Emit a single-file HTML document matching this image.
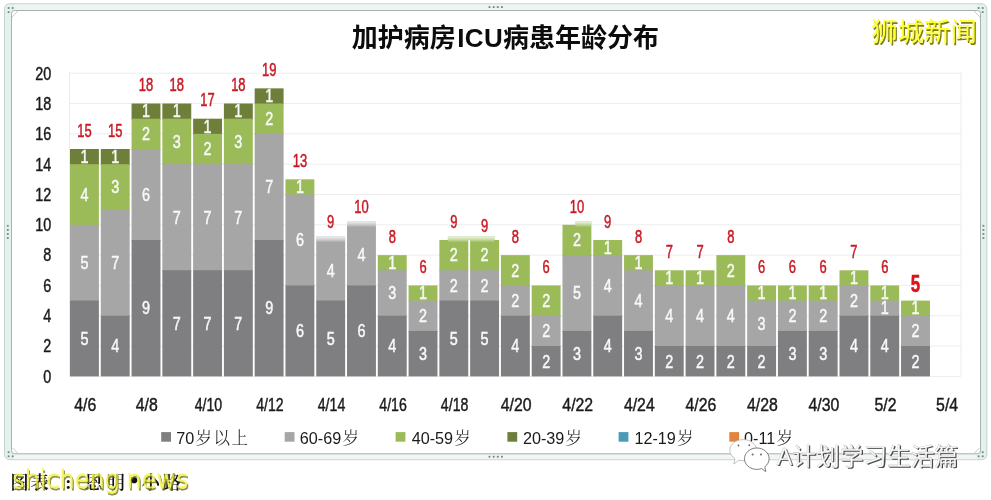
<!DOCTYPE html>
<html lang="zh"><head><meta charset="utf-8"><title>加护病房ICU病患年龄分布</title>
<style>
html,body{margin:0;padding:0;background:#fff;}
body{width:991px;height:500px;overflow:hidden;position:relative;}
svg{position:absolute;left:0;top:0;display:block;}
.n{font-family:"Liberation Sans",sans-serif;font-size:18.0px;}
.n{stroke-width:0.45px;vector-effect:non-scaling-stroke;paint-order:stroke fill;}
.w{fill:#f8f8f8;stroke:#f8f8f8;text-anchor:middle;}
.r{fill:#c81a24;stroke:#c81a24;text-anchor:middle;}
.k{fill:#1a1a1a;stroke:#1a1a1a;stroke-width:0.4px;}
.title{font-family:"Liberation Sans","Noto Sans CJK SC",sans-serif;font-weight:bold;font-size:26px;fill:#0c0c0c;}
.lg{font-family:"Liberation Sans","Noto Serif CJK SC",serif;font-size:16.2px;fill:#1a1a1a;}
.lgc{font-size:16.5px;letter-spacing:1.5px;font-weight:300;}
.wm1{font-family:"Liberation Sans","Noto Sans CJK SC",sans-serif;font-size:26.4px;fill:#ffff33;}
.wm2{font-family:"Liberation Sans","Noto Sans CJK SC",sans-serif;font-size:23.7px;}
.src{font-family:"Liberation Serif","Noto Serif CJK SC",serif;font-size:18.5px;fill:#111;font-weight:600;}
.wm3{font-family:"DejaVu Sans","Liberation Sans",sans-serif;font-weight:200;font-size:25.5px;fill:#f2f23e;}
</style></head><body>
<svg width="991" height="500" viewBox="0 0 991 500">
<defs>
<linearGradient id="fade" x1="0" y1="0" x2="0" y2="1"><stop offset="0" stop-color="#fff" stop-opacity="0.85"/><stop offset="0.6" stop-color="#fff" stop-opacity="0.4"/><stop offset="1" stop-color="#fff" stop-opacity="0"/></linearGradient>
<filter id="sh" x="-5%" y="-10%" width="110%" height="130%"><feGaussianBlur stdDeviation="0.5"/></filter>
</defs>
<rect width="991" height="500" fill="#fff"/>

<rect x="4.5" y="3.8" width="982.3" height="455.9" rx="5" ry="5" fill="#e2f3ee" stroke="#c6d0cc" stroke-width="1"/>
<rect x="14" y="4.4" width="963" height="5.6" fill="#eff3f1"/>
<rect x="14" y="454.3" width="963" height="4.9" fill="#f3f5f4"/>
<rect x="11.5" y="10.5" width="969" height="443.3" rx="3" ry="3" fill="#fff" stroke="#a7b2ae" stroke-width="1"/>
<path d="M12 17 L18 11 M980 17 L974 11 M12 447.5 L18 453.5 M980 447.5 L974 453.5" stroke="#b5bfbb" stroke-width="0.8" fill="none"/>
<rect x="488.6" y="6.2" width="1.8" height="1.8" fill="#74857e"/>
<rect x="488.6" y="455.8" width="1.8" height="1.8" fill="#74857e"/>
<rect x="492.8" y="6.2" width="1.8" height="1.8" fill="#74857e"/>
<rect x="492.8" y="455.8" width="1.8" height="1.8" fill="#74857e"/>
<rect x="496.9" y="6.2" width="1.8" height="1.8" fill="#74857e"/>
<rect x="496.9" y="455.8" width="1.8" height="1.8" fill="#74857e"/>
<rect x="501.0" y="6.2" width="1.8" height="1.8" fill="#74857e"/>
<rect x="501.0" y="455.8" width="1.8" height="1.8" fill="#74857e"/>
<rect x="6.9" y="224.9" width="1.8" height="1.8" fill="#74857e"/>
<rect x="982.5" y="224.9" width="1.8" height="1.8" fill="#74857e"/>
<rect x="6.9" y="229.0" width="1.8" height="1.8" fill="#74857e"/>
<rect x="982.5" y="229.0" width="1.8" height="1.8" fill="#74857e"/>
<rect x="6.9" y="233.1" width="1.8" height="1.8" fill="#74857e"/>
<rect x="982.5" y="233.1" width="1.8" height="1.8" fill="#74857e"/>
<rect x="6.9" y="237.2" width="1.8" height="1.8" fill="#74857e"/>
<rect x="982.5" y="237.2" width="1.8" height="1.8" fill="#74857e"/>
<rect x="7.7" y="7.1" width="1.8" height="1.8" fill="#74857e"/>
<rect x="11.8" y="7.1" width="1.8" height="1.8" fill="#74857e"/>
<rect x="7.7" y="11.2" width="1.8" height="1.8" fill="#74857e"/>
<rect x="981.8" y="7.1" width="1.8" height="1.8" fill="#74857e"/>
<rect x="977.7" y="7.1" width="1.8" height="1.8" fill="#74857e"/>
<rect x="981.8" y="11.2" width="1.8" height="1.8" fill="#74857e"/>
<rect x="7.7" y="455.4" width="1.8" height="1.8" fill="#74857e"/>
<rect x="11.8" y="455.4" width="1.8" height="1.8" fill="#74857e"/>
<rect x="7.7" y="451.3" width="1.8" height="1.8" fill="#74857e"/>
<rect x="981.8" y="455.4" width="1.8" height="1.8" fill="#74857e"/>
<rect x="977.7" y="455.4" width="1.8" height="1.8" fill="#74857e"/>
<rect x="981.8" y="451.3" width="1.8" height="1.8" fill="#74857e"/>
<line x1="69.6" x2="961.0" y1="376.4" y2="376.4" stroke="#ededed" stroke-width="1"/>
<line x1="69.6" x2="961.0" y1="346.1" y2="346.1" stroke="#ededed" stroke-width="1"/>
<line x1="69.6" x2="961.0" y1="315.8" y2="315.8" stroke="#ededed" stroke-width="1"/>
<line x1="69.6" x2="961.0" y1="285.4" y2="285.4" stroke="#ededed" stroke-width="1"/>
<line x1="69.6" x2="961.0" y1="255.1" y2="255.1" stroke="#ededed" stroke-width="1"/>
<line x1="69.6" x2="961.0" y1="224.8" y2="224.8" stroke="#ededed" stroke-width="1"/>
<line x1="69.6" x2="961.0" y1="194.5" y2="194.5" stroke="#ededed" stroke-width="1"/>
<line x1="69.6" x2="961.0" y1="164.2" y2="164.2" stroke="#ededed" stroke-width="1"/>
<line x1="69.6" x2="961.0" y1="133.8" y2="133.8" stroke="#ededed" stroke-width="1"/>
<line x1="69.6" x2="961.0" y1="103.5" y2="103.5" stroke="#ededed" stroke-width="1"/>
<line x1="69.6" x2="961.0" y1="73.2" y2="73.2" stroke="#ededed" stroke-width="1"/>
<line x1="69.6" x2="69.6" y1="72" y2="376.4" stroke="#ececec" stroke-width="1"/>
<line x1="961.0" x2="961.0" y1="72" y2="376.4" stroke="#ececec" stroke-width="1"/>
<text class="n k" text-anchor="end" transform="translate(51.3,382.7) scale(0.8,1)">0</text>
<text class="n k" text-anchor="end" transform="translate(51.3,352.4) scale(0.8,1)">2</text>
<text class="n k" text-anchor="end" transform="translate(51.3,322.1) scale(0.8,1)">4</text>
<text class="n k" text-anchor="end" transform="translate(51.3,291.7) scale(0.8,1)">6</text>
<text class="n k" text-anchor="end" transform="translate(51.3,261.4) scale(0.8,1)">8</text>
<text class="n k" text-anchor="end" transform="translate(51.3,231.1) scale(0.8,1)">10</text>
<text class="n k" text-anchor="end" transform="translate(51.3,200.8) scale(0.8,1)">12</text>
<text class="n k" text-anchor="end" transform="translate(51.3,170.5) scale(0.8,1)">14</text>
<text class="n k" text-anchor="end" transform="translate(51.3,140.1) scale(0.8,1)">16</text>
<text class="n k" text-anchor="end" transform="translate(51.3,109.8) scale(0.8,1)">18</text>
<text class="n k" text-anchor="end" transform="translate(51.3,79.5) scale(0.8,1)">20</text>
<rect x="70.00" y="149.00" width="28.90" height="16.16" fill="#6d7f38"/>
<rect x="70.00" y="164.16" width="28.90" height="61.64" fill="#9bbb59"/>
<rect x="70.00" y="224.80" width="28.90" height="76.80" fill="#a6a6a6"/>
<rect x="70.00" y="300.60" width="28.90" height="75.80" fill="#7f7e80"/>
<rect x="100.78" y="149.00" width="28.90" height="16.16" fill="#6d7f38"/>
<rect x="100.78" y="164.16" width="28.90" height="46.48" fill="#9bbb59"/>
<rect x="100.78" y="209.64" width="28.90" height="107.12" fill="#a6a6a6"/>
<rect x="100.78" y="315.76" width="28.90" height="60.64" fill="#7f7e80"/>
<rect x="131.56" y="103.52" width="28.90" height="16.16" fill="#6d7f38"/>
<rect x="131.56" y="118.68" width="28.90" height="31.32" fill="#9bbb59"/>
<rect x="131.56" y="149.00" width="28.90" height="91.96" fill="#a6a6a6"/>
<rect x="131.56" y="239.96" width="28.90" height="136.44" fill="#7f7e80"/>
<rect x="162.34" y="103.52" width="28.90" height="16.16" fill="#6d7f38"/>
<rect x="162.34" y="118.68" width="28.90" height="46.48" fill="#9bbb59"/>
<rect x="162.34" y="164.16" width="28.90" height="107.12" fill="#a6a6a6"/>
<rect x="162.34" y="270.28" width="28.90" height="106.12" fill="#7f7e80"/>
<rect x="193.12" y="118.68" width="28.90" height="16.16" fill="#6d7f38"/>
<rect x="193.12" y="133.84" width="28.90" height="31.32" fill="#9bbb59"/>
<rect x="193.12" y="164.16" width="28.90" height="107.12" fill="#a6a6a6"/>
<rect x="193.12" y="270.28" width="28.90" height="106.12" fill="#7f7e80"/>
<rect x="223.90" y="103.52" width="28.90" height="16.16" fill="#6d7f38"/>
<rect x="223.90" y="118.68" width="28.90" height="46.48" fill="#9bbb59"/>
<rect x="223.90" y="164.16" width="28.90" height="107.12" fill="#a6a6a6"/>
<rect x="223.90" y="270.28" width="28.90" height="106.12" fill="#7f7e80"/>
<rect x="254.68" y="88.36" width="28.90" height="16.16" fill="#6d7f38"/>
<rect x="254.68" y="103.52" width="28.90" height="31.32" fill="#9bbb59"/>
<rect x="254.68" y="133.84" width="28.90" height="107.12" fill="#a6a6a6"/>
<rect x="254.68" y="239.96" width="28.90" height="136.44" fill="#7f7e80"/>
<rect x="285.46" y="179.32" width="28.90" height="16.16" fill="#9bbb59"/>
<rect x="285.46" y="194.48" width="28.90" height="91.96" fill="#a6a6a6"/>
<rect x="285.46" y="285.44" width="28.90" height="90.96" fill="#7f7e80"/>
<rect x="316.24" y="239.96" width="28.90" height="61.64" fill="#a6a6a6"/>
<rect x="316.24" y="300.60" width="28.90" height="75.80" fill="#7f7e80"/>
<rect x="316.24" y="236.36" width="28.90" height="3.8" fill="#a6a6a6"/>
<rect x="316.24" y="236.36" width="28.90" height="6" fill="url(#fade)"/>
<rect x="347.02" y="224.80" width="28.90" height="61.64" fill="#a6a6a6"/>
<rect x="347.02" y="285.44" width="28.90" height="90.96" fill="#7f7e80"/>
<rect x="347.02" y="221.20" width="28.90" height="3.8" fill="#a6a6a6"/>
<rect x="347.02" y="221.20" width="28.90" height="6" fill="url(#fade)"/>
<rect x="377.80" y="255.12" width="28.90" height="16.16" fill="#9bbb59"/>
<rect x="377.80" y="270.28" width="28.90" height="46.48" fill="#a6a6a6"/>
<rect x="377.80" y="315.76" width="28.90" height="60.64" fill="#7f7e80"/>
<rect x="408.58" y="285.44" width="28.90" height="16.16" fill="#9bbb59"/>
<rect x="408.58" y="300.60" width="28.90" height="31.32" fill="#a6a6a6"/>
<rect x="408.58" y="330.92" width="28.90" height="45.48" fill="#7f7e80"/>
<rect x="439.36" y="239.96" width="28.90" height="31.32" fill="#9bbb59"/>
<rect x="439.36" y="270.28" width="28.90" height="31.32" fill="#a6a6a6"/>
<rect x="439.36" y="300.60" width="28.90" height="75.80" fill="#7f7e80"/>
<rect x="447.86" y="236.36" width="22.40" height="3.8" fill="#9bbb59"/>
<rect x="447.86" y="236.36" width="22.40" height="6" fill="url(#fade)"/>
<rect x="470.14" y="239.96" width="28.90" height="31.32" fill="#9bbb59"/>
<rect x="470.14" y="270.28" width="28.90" height="31.32" fill="#a6a6a6"/>
<rect x="470.14" y="300.60" width="28.90" height="75.80" fill="#7f7e80"/>
<rect x="470.14" y="236.36" width="24.40" height="3.8" fill="#9bbb59"/>
<rect x="470.14" y="236.36" width="24.40" height="6" fill="url(#fade)"/>
<rect x="500.92" y="255.12" width="28.90" height="31.32" fill="#9bbb59"/>
<rect x="500.92" y="285.44" width="28.90" height="31.32" fill="#a6a6a6"/>
<rect x="500.92" y="315.76" width="28.90" height="60.64" fill="#7f7e80"/>
<rect x="531.70" y="285.44" width="28.90" height="31.32" fill="#9bbb59"/>
<rect x="531.70" y="315.76" width="28.90" height="31.32" fill="#a6a6a6"/>
<rect x="531.70" y="346.08" width="28.90" height="30.32" fill="#7f7e80"/>
<rect x="562.48" y="224.80" width="28.90" height="31.32" fill="#9bbb59"/>
<rect x="562.48" y="255.12" width="28.90" height="76.80" fill="#a6a6a6"/>
<rect x="562.48" y="330.92" width="28.90" height="45.48" fill="#7f7e80"/>
<rect x="575.49" y="221.20" width="15.90" height="3.8" fill="#9bbb59"/>
<rect x="575.49" y="221.20" width="15.90" height="6" fill="url(#fade)"/>
<rect x="593.26" y="239.96" width="28.90" height="16.16" fill="#9bbb59"/>
<rect x="593.26" y="255.12" width="28.90" height="61.64" fill="#a6a6a6"/>
<rect x="593.26" y="315.76" width="28.90" height="60.64" fill="#7f7e80"/>
<rect x="624.04" y="255.12" width="28.90" height="16.16" fill="#9bbb59"/>
<rect x="624.04" y="270.28" width="28.90" height="61.64" fill="#a6a6a6"/>
<rect x="624.04" y="330.92" width="28.90" height="45.48" fill="#7f7e80"/>
<rect x="654.82" y="270.28" width="28.90" height="16.16" fill="#9bbb59"/>
<rect x="654.82" y="285.44" width="28.90" height="61.64" fill="#a6a6a6"/>
<rect x="654.82" y="346.08" width="28.90" height="30.32" fill="#7f7e80"/>
<rect x="685.60" y="270.28" width="28.90" height="16.16" fill="#9bbb59"/>
<rect x="685.60" y="285.44" width="28.90" height="61.64" fill="#a6a6a6"/>
<rect x="685.60" y="346.08" width="28.90" height="30.32" fill="#7f7e80"/>
<rect x="716.38" y="255.12" width="28.90" height="31.32" fill="#9bbb59"/>
<rect x="716.38" y="285.44" width="28.90" height="61.64" fill="#a6a6a6"/>
<rect x="716.38" y="346.08" width="28.90" height="30.32" fill="#7f7e80"/>
<rect x="747.16" y="285.44" width="28.90" height="16.16" fill="#9bbb59"/>
<rect x="747.16" y="300.60" width="28.90" height="46.48" fill="#a6a6a6"/>
<rect x="747.16" y="346.08" width="28.90" height="30.32" fill="#7f7e80"/>
<rect x="777.94" y="285.44" width="28.90" height="16.16" fill="#9bbb59"/>
<rect x="777.94" y="300.60" width="28.90" height="31.32" fill="#a6a6a6"/>
<rect x="777.94" y="330.92" width="28.90" height="45.48" fill="#7f7e80"/>
<rect x="808.72" y="285.44" width="28.90" height="16.16" fill="#9bbb59"/>
<rect x="808.72" y="300.60" width="28.90" height="31.32" fill="#a6a6a6"/>
<rect x="808.72" y="330.92" width="28.90" height="45.48" fill="#7f7e80"/>
<rect x="839.50" y="270.28" width="28.90" height="16.16" fill="#9bbb59"/>
<rect x="839.50" y="285.44" width="28.90" height="31.32" fill="#a6a6a6"/>
<rect x="839.50" y="315.76" width="28.90" height="60.64" fill="#7f7e80"/>
<rect x="870.28" y="285.44" width="28.90" height="16.16" fill="#9bbb59"/>
<rect x="870.28" y="300.60" width="28.90" height="16.16" fill="#a6a6a6"/>
<rect x="870.28" y="315.76" width="28.90" height="60.64" fill="#7f7e80"/>
<rect x="901.06" y="300.60" width="28.90" height="16.16" fill="#9bbb59"/>
<rect x="901.06" y="315.76" width="28.90" height="31.32" fill="#a6a6a6"/>
<rect x="901.06" y="346.08" width="28.90" height="30.32" fill="#7f7e80"/>
<text class="n w" transform="translate(84.45,344.80) scale(0.8,1)">5</text>
<text class="n w" transform="translate(84.45,269.00) scale(0.8,1)">5</text>
<text class="n w" transform="translate(84.45,200.78) scale(0.8,1)">4</text>
<text class="n w" transform="translate(84.45,162.88) scale(0.8,1)">1</text>
<text class="n r" transform="translate(84.45,136.80) scale(0.72,1)">15</text>
<text class="n w" transform="translate(115.23,352.38) scale(0.8,1)">4</text>
<text class="n w" transform="translate(115.23,269.00) scale(0.8,1)">7</text>
<text class="n w" transform="translate(115.23,193.20) scale(0.8,1)">3</text>
<text class="n w" transform="translate(115.23,162.88) scale(0.8,1)">1</text>
<text class="n r" transform="translate(115.23,136.80) scale(0.72,1)">15</text>
<text class="n w" transform="translate(146.01,314.48) scale(0.8,1)">9</text>
<text class="n w" transform="translate(146.01,200.78) scale(0.8,1)">6</text>
<text class="n w" transform="translate(146.01,140.14) scale(0.8,1)">2</text>
<text class="n w" transform="translate(146.01,117.40) scale(0.8,1)">1</text>
<text class="n r" transform="translate(146.01,91.32) scale(0.72,1)">18</text>
<text class="n w" transform="translate(176.79,329.64) scale(0.8,1)">7</text>
<text class="n w" transform="translate(176.79,223.52) scale(0.8,1)">7</text>
<text class="n w" transform="translate(176.79,147.72) scale(0.8,1)">3</text>
<text class="n w" transform="translate(176.79,117.40) scale(0.8,1)">1</text>
<text class="n r" transform="translate(176.79,91.32) scale(0.72,1)">18</text>
<text class="n w" transform="translate(207.57,329.64) scale(0.8,1)">7</text>
<text class="n w" transform="translate(207.57,223.52) scale(0.8,1)">7</text>
<text class="n w" transform="translate(207.57,155.30) scale(0.8,1)">2</text>
<text class="n w" transform="translate(207.57,132.56) scale(0.8,1)">1</text>
<text class="n r" transform="translate(207.57,106.48) scale(0.72,1)">17</text>
<text class="n w" transform="translate(238.35,329.64) scale(0.8,1)">7</text>
<text class="n w" transform="translate(238.35,223.52) scale(0.8,1)">7</text>
<text class="n w" transform="translate(238.35,147.72) scale(0.8,1)">3</text>
<text class="n w" transform="translate(238.35,117.40) scale(0.8,1)">1</text>
<text class="n r" transform="translate(238.35,91.32) scale(0.72,1)">18</text>
<text class="n w" transform="translate(269.13,314.48) scale(0.8,1)">9</text>
<text class="n w" transform="translate(269.13,193.20) scale(0.8,1)">7</text>
<text class="n w" transform="translate(269.13,124.98) scale(0.8,1)">2</text>
<text class="n w" transform="translate(269.13,102.24) scale(0.8,1)">1</text>
<text class="n r" transform="translate(269.13,76.16) scale(0.72,1)">19</text>
<text class="n w" transform="translate(299.91,337.22) scale(0.8,1)">6</text>
<text class="n w" transform="translate(299.91,246.26) scale(0.8,1)">6</text>
<text class="n w" transform="translate(299.91,193.20) scale(0.8,1)">1</text>
<text class="n r" transform="translate(299.91,167.12) scale(0.72,1)">13</text>
<text class="n w" transform="translate(330.69,344.80) scale(0.8,1)">5</text>
<text class="n w" transform="translate(330.69,276.58) scale(0.8,1)">4</text>
<text class="n r" transform="translate(330.69,227.76) scale(0.72,1)">9</text>
<text class="n w" transform="translate(361.47,337.22) scale(0.8,1)">6</text>
<text class="n w" transform="translate(361.47,261.42) scale(0.8,1)">4</text>
<text class="n r" transform="translate(361.47,212.60) scale(0.72,1)">10</text>
<text class="n w" transform="translate(392.25,352.38) scale(0.8,1)">4</text>
<text class="n w" transform="translate(392.25,299.32) scale(0.8,1)">3</text>
<text class="n w" transform="translate(392.25,269.00) scale(0.8,1)">1</text>
<text class="n r" transform="translate(392.25,242.92) scale(0.72,1)">8</text>
<text class="n w" transform="translate(423.03,359.96) scale(0.8,1)">3</text>
<text class="n w" transform="translate(423.03,322.06) scale(0.8,1)">2</text>
<text class="n w" transform="translate(423.03,299.32) scale(0.8,1)">1</text>
<text class="n r" transform="translate(423.03,273.24) scale(0.72,1)">6</text>
<text class="n w" transform="translate(453.81,344.80) scale(0.8,1)">5</text>
<text class="n w" transform="translate(453.81,291.74) scale(0.8,1)">2</text>
<text class="n w" transform="translate(453.81,261.42) scale(0.8,1)">2</text>
<text class="n r" transform="translate(453.81,227.76) scale(0.72,1)">9</text>
<text class="n w" transform="translate(484.59,344.80) scale(0.8,1)">5</text>
<text class="n w" transform="translate(484.59,291.74) scale(0.8,1)">2</text>
<text class="n w" transform="translate(484.59,261.42) scale(0.8,1)">2</text>
<text class="n r" transform="translate(484.59,231.76) scale(0.72,1)">9</text>
<text class="n w" transform="translate(515.37,352.38) scale(0.8,1)">4</text>
<text class="n w" transform="translate(515.37,306.90) scale(0.8,1)">2</text>
<text class="n w" transform="translate(515.37,276.58) scale(0.8,1)">2</text>
<text class="n r" transform="translate(515.37,242.92) scale(0.72,1)">8</text>
<text class="n w" transform="translate(546.15,367.54) scale(0.8,1)">2</text>
<text class="n w" transform="translate(546.15,337.22) scale(0.8,1)">2</text>
<text class="n w" transform="translate(546.15,306.90) scale(0.8,1)">2</text>
<text class="n r" transform="translate(546.15,273.24) scale(0.72,1)">6</text>
<text class="n w" transform="translate(576.93,359.96) scale(0.8,1)">3</text>
<text class="n w" transform="translate(576.93,299.32) scale(0.8,1)">5</text>
<text class="n w" transform="translate(576.93,246.26) scale(0.8,1)">2</text>
<text class="n r" transform="translate(576.93,212.60) scale(0.72,1)">10</text>
<text class="n w" transform="translate(607.71,352.38) scale(0.8,1)">4</text>
<text class="n w" transform="translate(607.71,291.74) scale(0.8,1)">4</text>
<text class="n w" transform="translate(607.71,253.84) scale(0.8,1)">1</text>
<text class="n r" transform="translate(607.71,227.76) scale(0.72,1)">9</text>
<text class="n w" transform="translate(638.49,359.96) scale(0.8,1)">3</text>
<text class="n w" transform="translate(638.49,306.90) scale(0.8,1)">4</text>
<text class="n w" transform="translate(638.49,269.00) scale(0.8,1)">1</text>
<text class="n r" transform="translate(638.49,242.92) scale(0.72,1)">8</text>
<text class="n w" transform="translate(669.27,367.54) scale(0.8,1)">2</text>
<text class="n w" transform="translate(669.27,322.06) scale(0.8,1)">4</text>
<text class="n w" transform="translate(669.27,284.16) scale(0.8,1)">1</text>
<text class="n r" transform="translate(669.27,258.08) scale(0.72,1)">7</text>
<text class="n w" transform="translate(700.05,367.54) scale(0.8,1)">2</text>
<text class="n w" transform="translate(700.05,322.06) scale(0.8,1)">4</text>
<text class="n w" transform="translate(700.05,284.16) scale(0.8,1)">1</text>
<text class="n r" transform="translate(700.05,258.08) scale(0.72,1)">7</text>
<text class="n w" transform="translate(730.83,367.54) scale(0.8,1)">2</text>
<text class="n w" transform="translate(730.83,322.06) scale(0.8,1)">4</text>
<text class="n w" transform="translate(730.83,276.58) scale(0.8,1)">2</text>
<text class="n r" transform="translate(730.83,242.92) scale(0.72,1)">8</text>
<text class="n w" transform="translate(761.61,367.54) scale(0.8,1)">2</text>
<text class="n w" transform="translate(761.61,329.64) scale(0.8,1)">3</text>
<text class="n w" transform="translate(761.61,299.32) scale(0.8,1)">1</text>
<text class="n r" transform="translate(761.61,273.24) scale(0.72,1)">6</text>
<text class="n w" transform="translate(792.39,359.96) scale(0.8,1)">3</text>
<text class="n w" transform="translate(792.39,322.06) scale(0.8,1)">2</text>
<text class="n w" transform="translate(792.39,299.32) scale(0.8,1)">1</text>
<text class="n r" transform="translate(792.39,273.24) scale(0.72,1)">6</text>
<text class="n w" transform="translate(823.17,359.96) scale(0.8,1)">3</text>
<text class="n w" transform="translate(823.17,322.06) scale(0.8,1)">2</text>
<text class="n w" transform="translate(823.17,299.32) scale(0.8,1)">1</text>
<text class="n r" transform="translate(823.17,273.24) scale(0.72,1)">6</text>
<text class="n w" transform="translate(853.95,352.38) scale(0.8,1)">4</text>
<text class="n w" transform="translate(853.95,306.90) scale(0.8,1)">2</text>
<text class="n w" transform="translate(853.95,284.16) scale(0.8,1)">1</text>
<text class="n r" transform="translate(853.95,258.08) scale(0.72,1)">7</text>
<text class="n w" transform="translate(884.73,352.38) scale(0.8,1)">4</text>
<text class="n w" transform="translate(884.73,314.48) scale(0.8,1)">1</text>
<text class="n w" transform="translate(884.73,299.32) scale(0.8,1)">1</text>
<text class="n r" transform="translate(884.73,273.24) scale(0.72,1)">6</text>
<text class="n w" transform="translate(915.51,367.54) scale(0.8,1)">2</text>
<text class="n w" transform="translate(915.51,337.22) scale(0.8,1)">2</text>
<text class="n w" transform="translate(915.51,314.48) scale(0.8,1)">1</text>
<text class="n r" style="font-weight:bold;font-size:23.5px;fill:#d8141a;stroke:#d8141a" transform="translate(915.51,291.50) scale(0.72,1)">5</text>
<text class="n k" text-anchor="middle" transform="translate(85.25,411.1) scale(0.88,1)">4/6</text>
<text class="n k" text-anchor="middle" transform="translate(146.81,411.1) scale(0.88,1)">4/8</text>
<text class="n k" text-anchor="middle" transform="translate(208.37,411.1) scale(0.785,1)">4/10</text>
<text class="n k" text-anchor="middle" transform="translate(269.93,411.1) scale(0.785,1)">4/12</text>
<text class="n k" text-anchor="middle" transform="translate(331.49,411.1) scale(0.785,1)">4/14</text>
<text class="n k" text-anchor="middle" transform="translate(393.05,411.1) scale(0.785,1)">4/16</text>
<text class="n k" text-anchor="middle" transform="translate(454.61,411.1) scale(0.785,1)">4/18</text>
<text class="n k" text-anchor="middle" transform="translate(516.17,411.1) scale(0.88,1)">4/20</text>
<text class="n k" text-anchor="middle" transform="translate(577.73,411.1) scale(0.88,1)">4/22</text>
<text class="n k" text-anchor="middle" transform="translate(639.29,411.1) scale(0.88,1)">4/24</text>
<text class="n k" text-anchor="middle" transform="translate(700.85,411.1) scale(0.88,1)">4/26</text>
<text class="n k" text-anchor="middle" transform="translate(762.41,411.1) scale(0.88,1)">4/28</text>
<text class="n k" text-anchor="middle" transform="translate(823.97,411.1) scale(0.88,1)">4/30</text>
<text class="n k" text-anchor="middle" transform="translate(885.53,411.1) scale(0.88,1)">5/2</text>
<text class="n k" text-anchor="middle" transform="translate(947.09,411.1) scale(0.88,1)">5/4</text>
<text class="title" x="351.8" y="47">加护病房<tspan dx="1.5" letter-spacing="0.3">ICU</tspan>病患年龄分布</text>
<rect x="161.2" y="432.1" width="9.8" height="9.6" fill="#7f7e80"/>
<text class="lg" x="176.3" y="444">70<tspan class="lgc" dx="1.2">岁以上</tspan></text>
<rect x="284.7" y="432.1" width="9.8" height="9.6" fill="#a6a6a6"/>
<text class="lg" x="299.8" y="444">60-69<tspan class="lgc" dx="1.2">岁</tspan></text>
<rect x="395.6" y="432.1" width="9.8" height="9.6" fill="#9bbb59"/>
<text class="lg" x="411.7" y="444">40-59<tspan class="lgc" dx="1.2">岁</tspan></text>
<rect x="507.4" y="432.1" width="9.8" height="9.6" fill="#6d7f38"/>
<text class="lg" x="522.9" y="444">20-39<tspan class="lgc" dx="1.2">岁</tspan></text>
<rect x="618.6" y="432.1" width="9.8" height="9.6" fill="#4a9ab8"/>
<text class="lg" x="634.4" y="444">12-19<tspan class="lgc" dx="1.2">岁</tspan></text>
<rect x="729.3" y="432.1" width="9.8" height="9.6" fill="#e0853f"/>
<text class="lg" x="744.0" y="444">0-11<tspan class="lgc" dx="1.2">岁</tspan></text>
<text class="wm1" x="871.3" y="41.2" style="fill:#7d7d1e" filter="url(#sh)" transform="translate(1.2,1.4)">狮城新闻</text>
<text class="wm1" x="871.3" y="41.2">狮城新闻</text>
<text class="src"><tspan x="10.2" y="489">图</tspan><tspan x="30.4" y="489">表</tspan><tspan x="65.2" y="489">:</tspan><tspan x="84.5" y="489">恩</tspan><tspan x="106.5" y="489">明</tspan><tspan x="130.0" y="488.3" style="font-size:24px">•</tspan><tspan x="141.5" y="489">小</tspan><tspan x="162.5" y="489">路</tspan></text>
<g opacity="0.82"><text class="wm3" style="fill:#77771c" transform="translate(13.4,489.7) scale(0.938,1)" stroke="#77771c" stroke-width="0.8" filter="url(#sh)">shicheng news</text>
<text class="wm3" transform="translate(12.2,488.3) scale(0.938,1)" stroke="#f2f23e" stroke-width="0.95">shicheng news</text></g>
<path d="M743.2 439.6c-7.4 0-13.4 4.700-13.400 10.500 0 3.400 2 6.400 5.100 8.300l-1.100 5.700 5-3.900c1.400.3 2.900.5 4.400.5 7.400 0 13.400-4.700 13.400-10.600s-6-10.500-13.400-10.500z" fill="#fff" stroke="#b4b4b4" stroke-width="0.8"/>
<path d="M756.8 448c-6.800 0-12.300 4.800-12.300 10.700s5.500 10.700 12.300 10.700c1.700 0 3.300-.3 4.800-.8l4.200 3-1-4.700c2.600-2 4.300-4.900 4.300-8.200 0-5.900-5.500-10.700-12.300-10.700z" fill="#fff" stroke="#5e5e5e" stroke-width="0.8"/>
<g fill="#666"><circle cx="738.5" cy="445.5" r="0.9"/><circle cx="749.3" cy="445.2" r="0.9"/><circle cx="752.6" cy="454.6" r="1"/><circle cx="761" cy="454.6" r="1"/></g>
<text class="wm2" x="776.500" y="465" fill="#4a4a4a" transform="translate(1.3,1.1)" filter="url(#sh)">A计划学习生活篇</text>
<text class="wm2" x="776.500" y="465" fill="#fff" stroke="#b0b0b0" stroke-width="0.3">A计划学习生活篇</text>
</svg></body></html>
